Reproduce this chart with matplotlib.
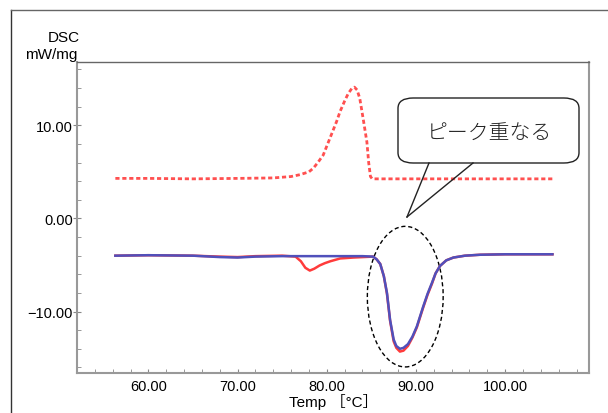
import numpy as np
import matplotlib
matplotlib.use("Agg")
import matplotlib.pyplot as plt
from matplotlib.patches import Ellipse, FancyBboxPatch
from matplotlib.lines import Line2D
from matplotlib.ticker import MultipleLocator, FuncFormatter

plt.rcParams['font.family'] = ['Liberation Sans', 'Noto Sans CJK JP']

# DSC curves (temp in C, value in mW/mg)
temp_dot = [56.3, 60, 65, 70, 74, 76, 77, 78, 78.5, 79, 79.6, 80.1, 80.6, 81.1, 81.5,
            82, 82.4, 82.8, 83.1, 83.4, 83.7, 84.1, 84.5, 84.7, 84.9, 85.1, 90, 95, 100, 105.3]
dsc_dot = [4.3, 4.3, 4.25, 4.3, 4.35, 4.5, 4.7, 5.0, 5.4, 6.0, 6.8, 8.0, 9.2, 10.4, 11.5,
           12.6, 13.4, 13.95, 14.1, 13.8, 12.9, 10.6, 8.2, 6.0, 4.5, 4.25, 4.25, 4.25, 4.25, 4.25]

temp_red = [56.3, 60, 65, 68, 70, 72, 75, 76.5, 77.1, 77.6, 78.1, 78.6, 79.2, 79.8, 80.4,
            81.5, 83, 85.2, 85.6, 86.0, 86.4, 86.75, 87.1, 87.5, 87.8, 88.2, 88.6, 89.1,
            89.6, 90.1, 90.8, 91.3, 91.8, 92.2, 92.7, 93.4, 94.2, 95.5, 97.2, 100, 105.3]
dsc_red = [-4.0, -3.95, -4.0, -4.1, -4.15, -4.05, -4.0, -4.1, -4.6, -5.3, -5.6, -5.4, -5.05, -4.8, -4.6,
           -4.3, -4.2, -4.1, -4.4, -4.9, -6.2, -8.1, -11.0, -13.2, -13.9, -14.3, -14.2, -13.7,
           -12.8, -11.7, -9.6, -8.2, -7.0, -5.9, -5.1, -4.5, -4.2, -4.0, -3.9, -3.85, -3.85]

temp_blue = [56.3, 60, 65, 68, 70, 72, 75, 80, 84, 85.2, 85.6, 86.0, 86.4, 86.75, 87.1, 87.5,
             87.8, 88.2, 88.6, 89.1, 89.6, 90.1, 90.8, 91.3, 91.8, 92.2, 92.7, 93.4, 94.2,
             95.5, 97.2, 100, 105.3]
dsc_blue = [-4.0, -3.95, -4.0, -4.15, -4.2, -4.1, -4.05, -4.05, -4.05, -4.1, -4.4, -4.9, -6.2, -8.0, -10.9, -13.0,
            -13.7, -14.0, -13.9, -13.5, -12.7, -11.6, -9.5, -8.1, -6.9, -5.9, -5.1, -4.5, -4.2,
            -4.0, -3.9, -3.85, -3.85]

callout_text = "ピーク重なる"

W, H = 608, 414
fig = plt.figure(figsize=(W / 100, H / 100), dpi=100)
ax = fig.add_axes([77 / W, 1 - 374 / H, (589 - 77) / W, (374 - 63) / H])


def px(x, y):
    return x / W, 1 - y / H


def fmt(v, pos):
    return ('%.2f' % v).replace('-', '\u2212')


ax.plot(temp_dot, dsc_dot, color='#ff5050', lw=2, linestyle=(0, (1.5, 1)))
ax.plot(temp_red, dsc_red, color='#ff3b3b', lw=1.8)
ax.plot(temp_blue, dsc_blue, color='#5050bb', lw=1.8)

ax.add_patch(Ellipse((88.8, -8.4), 8.5, 15.1, fill=False, ec='black', lw=1, ls=(0, (3, 2))))

ax.set_xlim(52, 109.4)
ax.set_ylim(-16.6, 16.8)
ax.xaxis.set_major_locator(MultipleLocator(10))
ax.xaxis.set_minor_locator(MultipleLocator(2))
ax.yaxis.set_major_locator(MultipleLocator(10))
ax.yaxis.set_minor_locator(MultipleLocator(2))
ax.xaxis.set_major_formatter(FuncFormatter(fmt))
ax.yaxis.set_major_formatter(FuncFormatter(fmt))
ax.tick_params(axis='x', which='both', direction='in', length=3, color='#888888',
               labelsize=10.5, pad=4)
ax.tick_params(axis='y', which='major', direction='inout', length=6, color='#888888',
               labelsize=10.5, pad=0)
ax.tick_params(axis='y', which='minor', direction='in', length=3, color='#888888')
for s in ['left', 'bottom', 'right']:
    ax.spines[s].set_color('#999999')
    ax.spines[s].set_linewidth(1.5)
ax.spines['top'].set_color('#666666')
ax.spines['top'].set_linewidth(1)

ax.set_xlabel('Temp ［°C］', fontsize=11, labelpad=0)
fig.text(*px(80, 38), 'DSC', ha='right', va='center', fontsize=11)
fig.text(*px(77, 55), 'mW/mg', ha='right', va='center', fontsize=11)

# outer frame lines
fig.add_artist(Line2D([11 / W, 11 / W], [0, 1 - 11 / H], color='#333333', lw=1))
fig.add_artist(Line2D([11 / W, 1], [1 - 11 / H, 1 - 11 / H], color='#666666', lw=1))

# callout box
bx0, by0 = px(398, 164)
bx1, by1 = px(579, 99)
box = FancyBboxPatch((bx0, by0), bx1 - bx0, by1 - by0,
                     boxstyle='round,pad=0,rounding_size=0.025',
                     transform=fig.transFigure, fc='white', ec='#222222', lw=1)
fig.add_artist(box)
tip = px(407, 218)
for bxp in [429, 473]:
    p = px(bxp, 164)
    fig.add_artist(Line2D([p[0], tip[0]], [p[1], tip[1]], color='#222222', lw=1))
fig.text(*px(489, 134), callout_text, ha='center', va='center', fontsize=15,
         family=['Noto Sans CJK JP'], fontweight='light', color='#222222')

fig.savefig('out.png', dpi=100)
